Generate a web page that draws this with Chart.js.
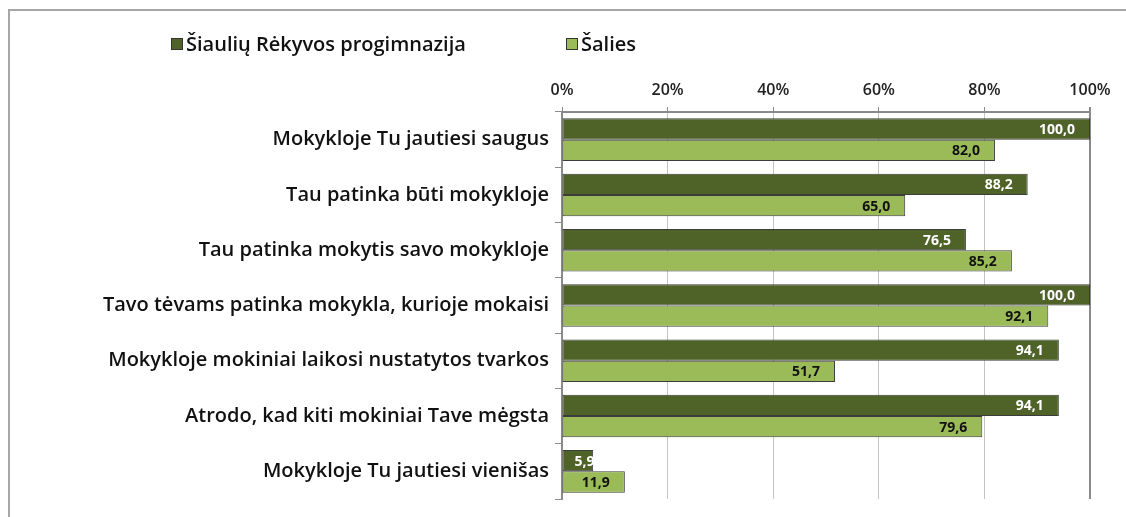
<!DOCTYPE html>
<html>
<head>
<meta charset="utf-8">
<script src="https://cdn.jsdelivr.net/npm/chart.js@4"></script>
<style>
  html, body { margin: 0; padding: 0; background: #fff; }
  #wrap { position: relative; width: 1126px; height: 517px; overflow: hidden; }
  #frame { position: absolute; left: 8px; top: 9px; width: 1200px; height: 600px; border: 2px solid #a6a6a6; box-sizing: border-box; }
  canvas { position: absolute; left: 0; top: 0; }
  .leg { position: absolute; top: 30px; font: 600 20px "Open Sans", sans-serif; color: #111; white-space: nowrap; }
  .leg span.box { display: inline-block; width: 10px; height: 10px; border: 1px solid #333; margin-right: 3px; vertical-align: 1px; }
</style>
</head>
<body>
<div id="wrap">
  <div id="frame"></div>
  <canvas id="grafikas" width="1126" height="517"></canvas>
  <div id="legenda"></div>
</div>
<script>
// klausimai
const klausimai = [
  'Mokykloje Tu jautiesi saugus',
  'Tau patinka būti mokykloje',
  'Tau patinka mokytis savo mokykloje',
  'Tavo tėvams patinka mokykla, kurioje mokaisi',
  'Mokykloje mokiniai laikosi nustatytos tvarkos',
  'Atrodo, kad kiti mokiniai Tave mėgsta',
  'Mokykloje Tu jautiesi vienišas'
];
const mokykla = [100.0, 88.2, 76.5, 100.0, 94.1, 94.1, 5.9];
const salies = [82.0, 65.0, 85.2, 92.1, 51.7, 79.6, 11.9];
const serijos = ['Šiaulių Rėkyvos progimnazija', 'Šalies'];
const spalvos = ['#4f6228', '#9bbb59'];
const tekstoSpalvos = ['#ffffff', '#111111'];
const ticksX = [0, 20, 40, 60, 80, 100];

// reiksmiu uzrasai ant stulpeliu
const uzrasai = {
  id: 'uzrasai',
  afterDatasetsDraw(chart) {
    const ctx = chart.ctx;
    chart.data.datasets.forEach((ds, i) => {
      chart.getDatasetMeta(i).data.forEach((bar, j) => {
        const txt = ds.data[j].toFixed(1).replace('.', ',');
        ctx.save();
        ctx.beginPath();
        ctx.rect(bar.base, bar.y - bar.height / 2, bar.x - bar.base, bar.height);
        ctx.clip();
        ctx.font = '700 14px "Open Sans", sans-serif';
        ctx.fillStyle = tekstoSpalvos[i];
        ctx.textBaseline = 'middle';
        const w = ctx.measureText(txt).width;
        let x = bar.x - 15;
        if (x - w < bar.base + 4) {
          ctx.textAlign = 'left';
          x = bar.base + 12;
        } else {
          ctx.textAlign = 'right';
        }
        ctx.fillText(txt, x, bar.y + 1);
        ctx.restore();
      });
    });
  }
};

const grafikas = new Chart(document.getElementById('grafikas'), {
  type: 'bar',
  data: {
    labels: klausimai,
    datasets: serijos.map((s, i) => ({
      label: s,
      data: i === 0 ? mokykla : salies,
      backgroundColor: spalvos[i],
      borderColor: '#3c3c3c',
      borderWidth: 1,
      borderSkipped: false,
      barPercentage: 1,
      categoryPercentage: 0.77
    }))
  },
  options: {
    indexAxis: 'y',
    responsive: false,
    animation: false,
    layout: { padding: { top: 60, right: 36, bottom: 8, left: 0 } },
    plugins: {
      legend: { display: false },
      tooltip: { enabled: false }
    },
    scales: {
      x: {
        position: 'top',
        min: 0,
        max: 100,
        afterBuildTicks: s => { s.ticks = ticksX.map(v => ({ value: v })); },
        afterFit: s => { s.height = 52; },
        ticks: {
          callback: v => v + '%',
          font: { family: 'Open Sans', size: 16, weight: '600' },
          color: '#222',
          padding: 7
        },
        grid: {
          color: c => c.tick && c.tick.value === 100 ? '#8a8a8a' : '#c4c4c4',
          lineWidth: c => c.tick && c.tick.value === 100 ? 2 : 1,
          tickLength: 5,
          tickColor: '#8a8a8a'
        },
        border: { color: '#8a8a8a', width: 2 }
      },
      y: {
        afterFit: s => { s.width = 562; },
        ticks: {
          font: { family: 'Open Sans', size: 20, weight: '600' },
          color: '#111',
          padding: 6
        },
        grid: {
          drawOnChartArea: false,
          tickLength: 7,
          tickColor: '#8a8a8a',
          offset: true
        },
        border: { color: '#8a8a8a', width: 2 }
      }
    }
  },
  plugins: [uzrasai]
});

// legenda
const legX = [171, 566];
document.getElementById('legenda').innerHTML = serijos.map((s, i) =>
  `<div class="leg" style="left:${legX[i]}px"><span class="box" style="background:${spalvos[i]}"></span>${s}</div>`
).join('');
</script>
</body>
</html>
